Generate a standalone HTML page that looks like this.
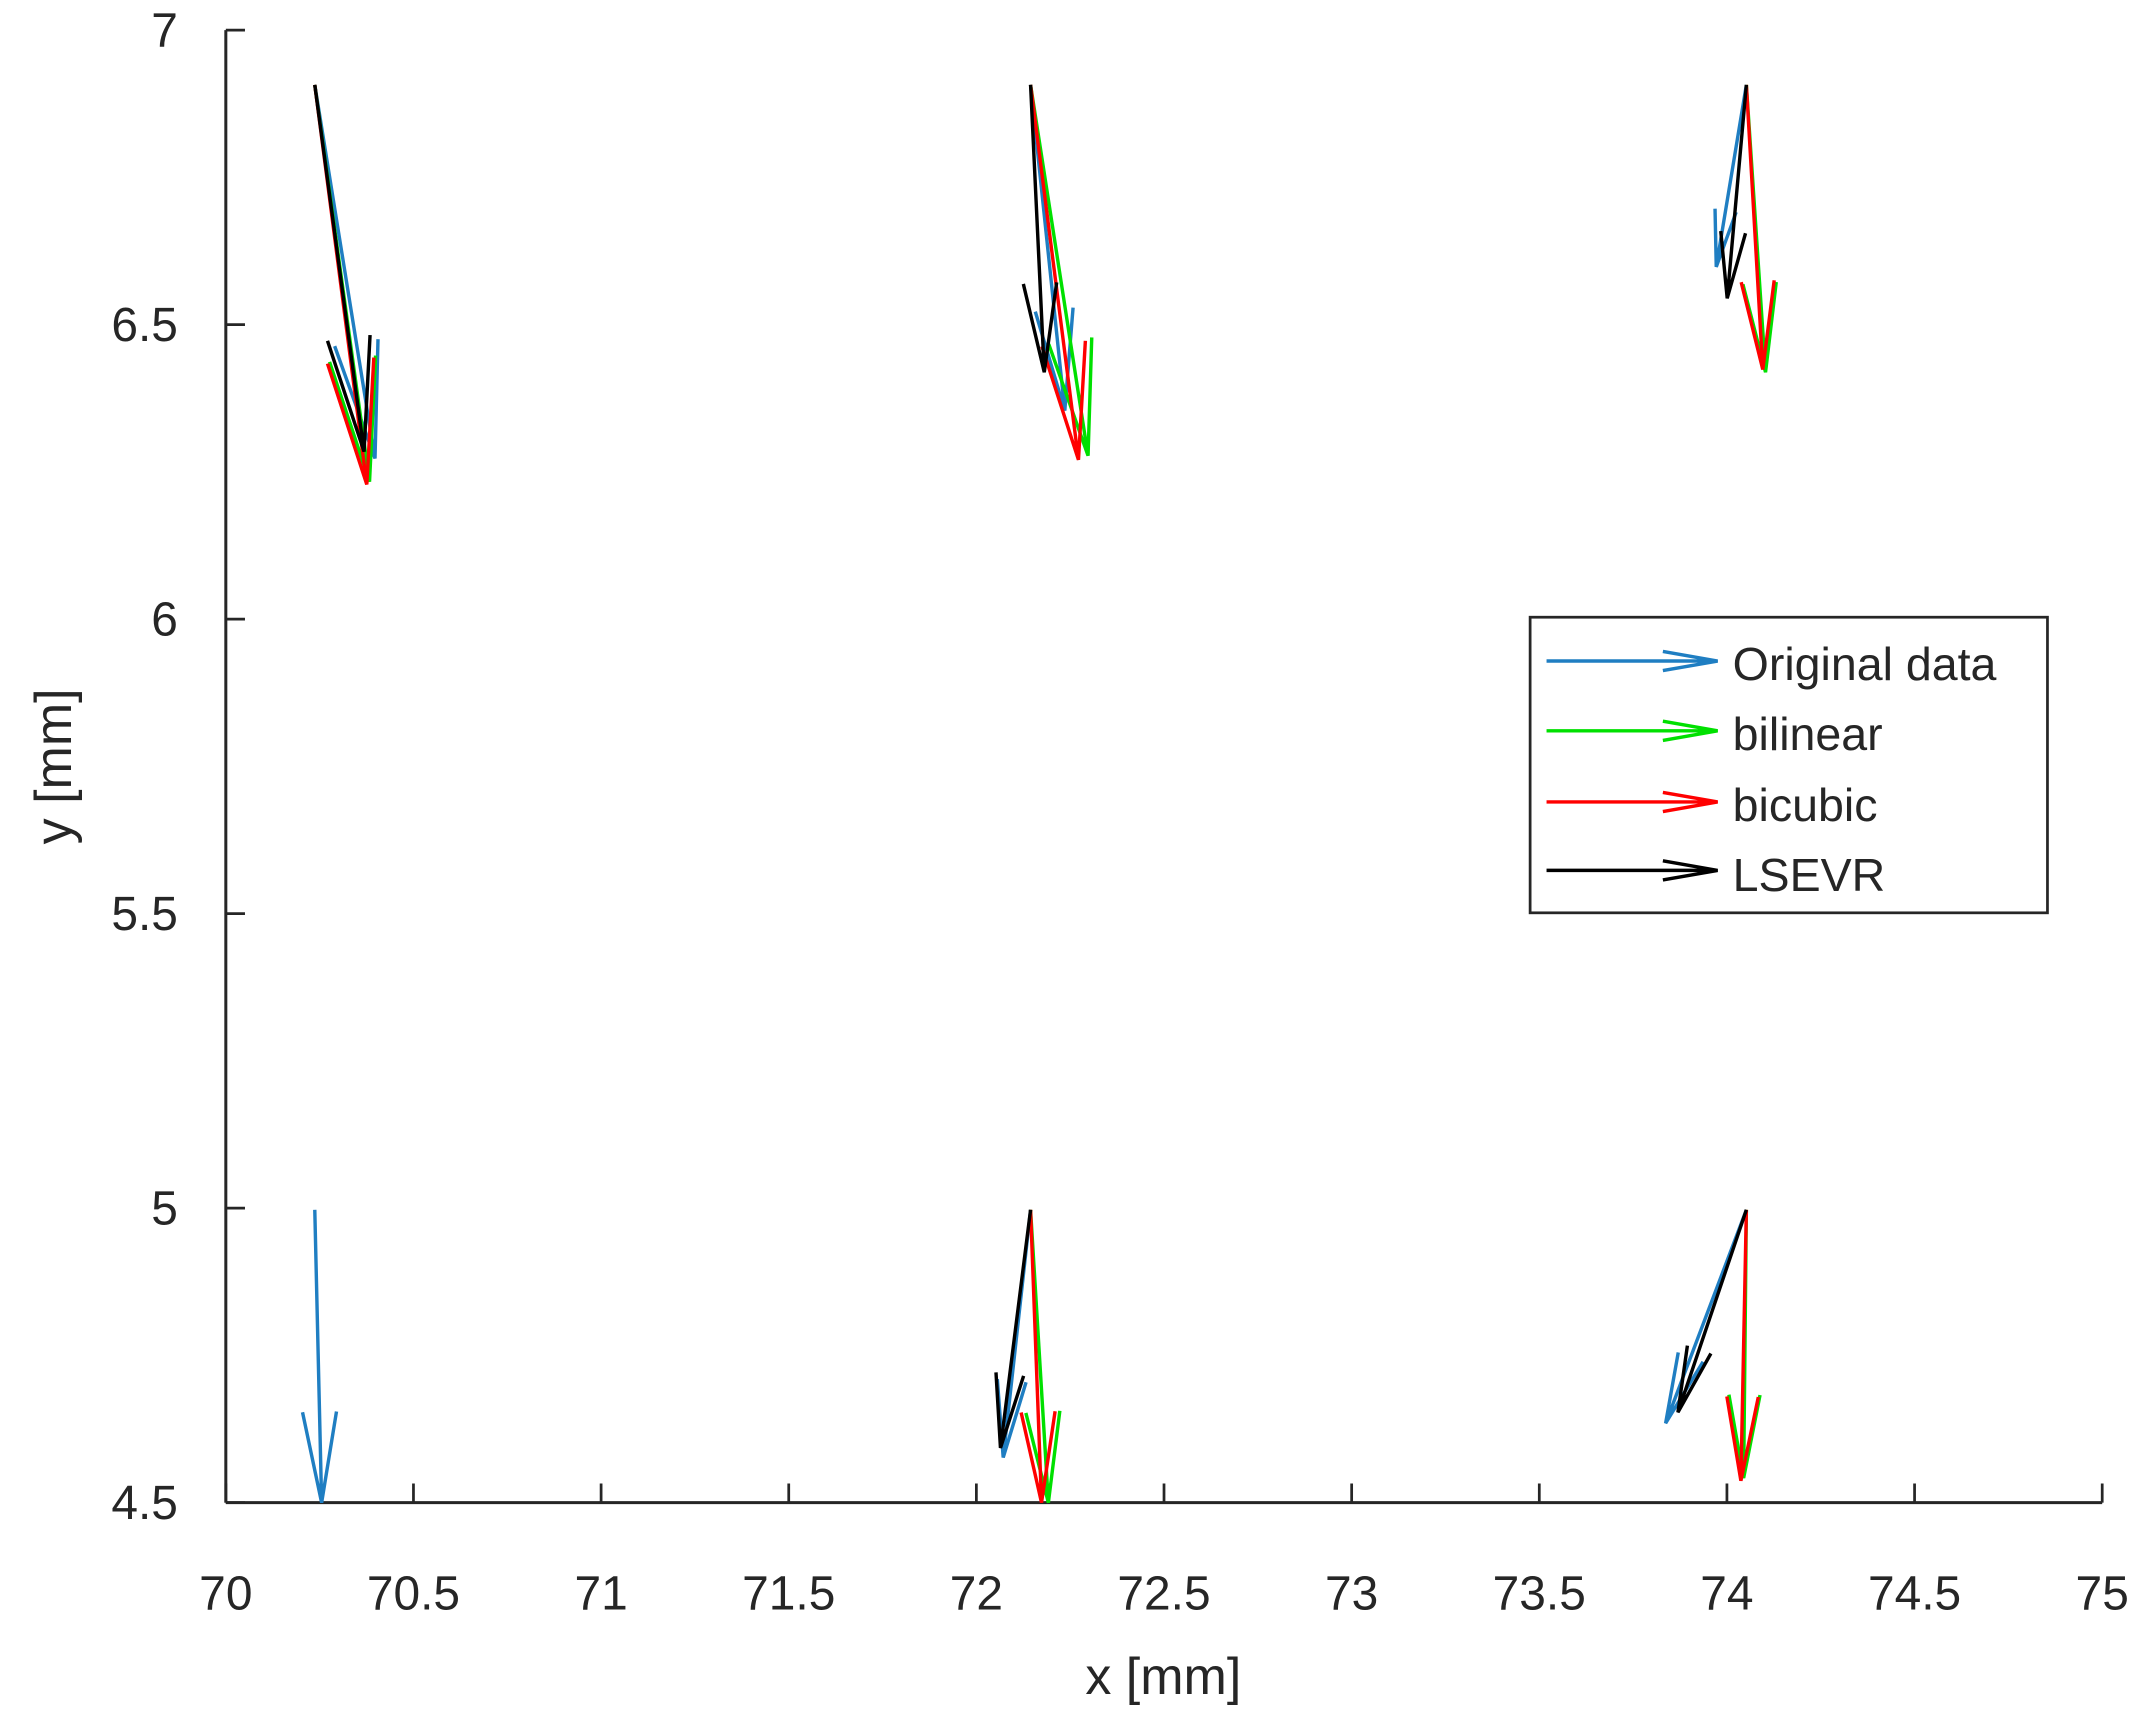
<!DOCTYPE html>
<html><head><meta charset="utf-8"><style>
html,body{margin:0;padding:0;background:#fff;}
svg{display:block;}
text{font-family:"Liberation Sans",sans-serif;fill:#262626;}
</style></head><body>
<svg id="s" width="2146" height="1723" viewBox="0 0 1568 1259" preserveAspectRatio="none">
<g stroke="#262626" stroke-width="2.2" fill="none">
<line x1="165" y1="22" x2="165" y2="1098"/>
<line x1="165" y1="1098" x2="1536" y2="1098"/>
</g>
<g id="ticks" stroke="#262626" stroke-width="2"></g>
<g id="labels" font-size="35"></g>
<text x="850" y="1238" font-size="38" text-anchor="middle">x [mm]</text>
<text transform="translate(52,560) rotate(-90)" font-size="38" text-anchor="middle">y [mm]</text>
<g id="arr" fill="none" stroke-width="2.5"></g>
<rect x="1118" y="451" width="378" height="216" fill="#fff" stroke="#262626" stroke-width="2"/>
<g id="leg" fill="none" stroke-width="2.5"></g>
<g font-size="34">
<text x="1266" y="497">Original data</text>
<text x="1266" y="548">bilinear</text>
<text x="1266" y="600">bicubic</text>
<text x="1266" y="651">LSEVR</text>
</g>
</svg>
<script>
const NS="http://www.w3.org/2000/svg";
const X=v=>165+(v-70)*274.2, Y=v=>22+(7-v)*430.4;
const t=document.getElementById('ticks'), l=document.getElementById('labels');
function el(p,n,a,txt){const e=document.createElementNS(NS,n);for(const k in a)e.setAttribute(k,a[k]);if(txt)e.textContent=txt;p.appendChild(e);}
for(let i=0;i<=10;i++){const v=70+i*0.5,x=X(v);el(t,'line',{x1:x,y1:1098,x2:x,y2:1084});
el(l,'text',{x:x,y:1176,'text-anchor':'middle'},String(v));}
for(let i=0;i<=5;i++){const v=4.5+i*0.5,y=Y(v);el(t,'line',{x1:165,y1:y,x2:179,y2:y});
el(l,'text',{x:130,y:y+12,'text-anchor':'end'},String(v));}
const B='#1f7ec2',G='#00e000',R='#ff0000',K='#000';
function arrow(p,x0,y0,x1,y1,c,hl,hw){const dx=x1-x0,dy=y1-y0,L=Math.hypot(dx,dy),ux=dx/L,uy=dy/L;
hl=hl||0.31*L;hw=hw||0.058*L;const bx=x1-ux*hl,by=y1-uy*hl;
el(p,'path',{d:`M${x0},${y0}L${x1},${y1}M${bx-uy*hw},${by+ux*hw}L${x1},${y1}L${bx+uy*hw},${by-ux*hw}`,stroke:c});}
const a=document.getElementById('arr');
const data=[
[230,62,[[B,274,335],[G,270,352],[R,268,354],[K,266,330]]],
[753,62,[[B,778,300],[G,795,333],[R,788,336],[K,763,272]]],
[1276,62,[[B,1254,195],[G,1290,272],[R,1288,270],[K,1262,218]]],
[230,884,[[B,235,1098]]],
[753,884,[[B,733,1065],[G,766,1098],[R,761,1098],[K,731,1058]]],
[1276,884,[[B,1217,1040],[G,1274,1080],[R,1272,1082],[K,1226,1032]]]];
for(const [x0,y0,list] of data)for(const [c,x1,y1] of list)arrow(a,x0,y0,x1,y1,c);
const lg=document.getElementById('leg');
[[B,483],[G,534],[R,586],[K,636]].forEach(([c,y])=>arrow(lg,1130,y,1255,y,c,40,7));
</script>
</body></html>
